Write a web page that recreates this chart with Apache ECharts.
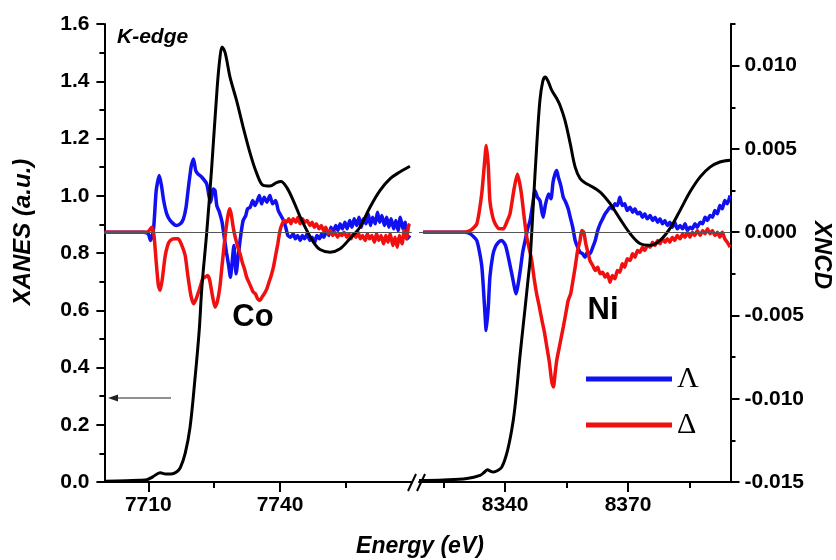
<!DOCTYPE html>
<html>
<head>
<meta charset="utf-8">
<script src="https://cdn.jsdelivr.net/npm/echarts@6/dist/echarts.min.js"></script>
<style>
  html, body { margin: 0; padding: 0; background: #fff; }
  #main { width: 836px; height: 560px; }
</style>
</head>
<body>
<div id="main"></div>
<script>
// Co K-edge XANES (left axis)
var coXanes = [[7700,0.003],[7705,0.004],[7708,0.006],[7709.7,0.008],[7711,0.018],[7712.7,0.032],[7714,0.028],[7715.2,0.028],[7716.5,0.036],[7717.3,0.05],[7718.4,0.10],[7719.5,0.19],[7720.6,0.355],[7721.6,0.53],[7722.2,0.68],[7723.3,0.87],[7724.4,1.09],[7725.7,1.38],[7726.3,1.48],[7726.8,1.52],[7727.5,1.50],[7728.6,1.415],[7730.1,1.333],[7731.6,1.24],[7733.2,1.148],[7734.7,1.078],[7736.2,1.036],[7737.7,1.034],[7739.2,1.046],[7740.2,1.05],[7741.5,1.03],[7743,0.984],[7744.6,0.926],[7746.1,0.879],[7747.6,0.838],[7749.1,0.812],[7751.4,0.803],[7753.7,0.815],[7755.9,0.85],[7758.2,0.89],[7760.5,0.96],[7762.8,1.019],[7765.1,1.06],[7767.3,1.083],[7769.6,1.103]];

// Co XNCD, Lambda (blue) and Delta (red), right axis
var coLambda = [[7700,0],[7709,0],[7710,-0.0001],[7710.5,-0.0005],[7711.2,0.0002],[7711.8,0.0025],[7712.5,0.0034],[7713,0.0028],[7713.5,0.0019],[7714.2,0.0011],[7715,0.0007],[7716.4,0.0004],[7717.3,0.0005],[7718,0.0008],[7718.6,0.0015],[7719.1,0.0026],[7719.8,0.0040],[7720.3,0.0044],[7720.8,0.0037],[7721.3,0.0035],[7722.2,0.0033],[7723.3,0.0029],[7723.8,0.0022],[7724.2,0.0018],[7724.8,0.0026],[7725.2,0.0025],[7725.6,0.0016],[7726.2,0.0012],[7726.8,0.0006],[7727.3,-0.0003],[7727.8,-0.0012],[7728.3,-0.0020],[7728.7,-0.0027],[7729.1,-0.0018],[7729.5,-0.0008],[7730,-0.0025],[7730.5,-0.0014],[7731,-0.0003],[7731.6,0.0007],[7732.2,0.0010],[7732.6,0.0014],[7733.2,0.0015],[7733.8,0.0019],[7734.3,0.0016],[7734.7,0.0018],[7735.3,0.0022],[7735.8,0.0017],[7736.4,0.0021],[7737,0.0018],[7737.7,0.0022],[7738.3,0.0017],[7739,0.0019],[7739.6,0.0013],[7740.2,0.0010],[7740.8,0.0007],[7741.3,0.0003],[7741.8,-0.0002],[7742.4,-0.0003],[7743,-0.0001],[7743.5,-0.0004],[7744,-0.0002],[7744.6,-0.0005],[7745.1,-0.0002],[7745.6,-0.0004],[7746.2,-0.0001],[7746.8,-0.0005],[7747.3,-0.0003],[7747.9,-0.0006],[7748.4,-0.0002],[7749,-0.0004],[7749.5,-0.0001],[7750,-0.0003],[7750.6,0.0001],[7751.1,-0.0002],[7751.6,0.0003],[7752.1,0.0000],[7752.7,0.0004],[7753.2,0.0001],[7753.7,0.0005],[7754.2,0.0002],[7754.8,0.0006],[7755.3,0.0002],[7755.9,0.0007],[7756.4,0.0003],[7756.9,0.0008],[7757.5,0.0004],[7758,0.0009],[7758.5,0.0003],[7759,0.0008],[7759.6,0.0005],[7760.1,0.0011],[7760.6,0.0004],[7761.1,0.0009],[7761.7,0.0005],[7762.2,0.0012],[7762.7,0.0006],[7763.2,0.0010],[7763.8,0.0004],[7764.3,0.0009],[7764.8,0.0003],[7765.3,0.0008],[7765.9,0.0002],[7766.4,0.0007],[7766.9,0.0001],[7767.4,0.0009],[7768,0.0002],[7768.5,0.0006],[7769,-0.0004],[7769.6,-0.0002]];
var coDelta = [[7700,0],[7709.5,0],[7710.2,0.0001],[7710.8,0.0003],[7711.3,-0.0002],[7711.8,-0.0018],[7712.3,-0.0032],[7712.7,-0.0035],[7713.2,-0.0028],[7713.8,-0.0015],[7714.4,-0.0008],[7715,-0.0005],[7716,-0.0004],[7716.8,-0.0004],[7717.5,-0.0007],[7718.4,-0.0014],[7719,-0.0026],[7719.7,-0.0038],[7720.3,-0.0043],[7720.9,-0.0040],[7721.8,-0.0033],[7722.4,-0.0028],[7722.9,-0.0027],[7723.5,-0.0026],[7724,-0.0029],[7724.6,-0.0038],[7725.2,-0.0045],[7725.7,-0.0042],[7726.3,-0.0033],[7726.8,-0.0020],[7727.4,-0.0005],[7727.9,0.0006],[7728.3,0.0012],[7728.6,0.0014],[7729,0.0009],[7729.4,0.0002],[7729.9,-0.0004],[7730.4,-0.0009],[7730.9,-0.0013],[7731.4,-0.0018],[7731.9,-0.0022],[7732.4,-0.0027],[7732.9,-0.0030],[7733.4,-0.0033],[7733.9,-0.0036],[7734.4,-0.0037],[7734.9,-0.0040],[7735.4,-0.0041],[7735.9,-0.0039],[7736.4,-0.0037],[7737,-0.0034],[7737.5,-0.0030],[7738,-0.0026],[7738.5,-0.0021],[7739,-0.0014],[7739.5,-0.0007],[7740,0.0001],[7740.5,0.0005],[7741,0.0007],[7741.5,0.0006],[7742,0.0008],[7742.5,0.0005],[7743,0.0008],[7743.6,0.0006],[7744.1,0.0009],[7744.6,0.0005],[7745.1,0.0008],[7745.7,0.0006],[7746.2,0.0007],[7746.8,0.0004],[7747.3,0.0006],[7747.8,0.0003],[7748.3,0.0005],[7748.9,0.0002],[7749.4,0.0004],[7749.9,0.0001],[7750.4,0.0003],[7751,-0.0001],[7751.5,0.0001],[7752,-0.0002],[7752.5,0.0000],[7753.1,-0.0003],[7753.6,-0.0001],[7754.1,-0.0002],[7754.6,0.0000],[7755.2,-0.0003],[7755.7,-0.0001],[7756.2,-0.0004],[7756.7,-0.0001],[7757.3,-0.0003],[7757.8,0.0000],[7758.3,-0.0004],[7758.8,-0.0002],[7759.4,-0.0005],[7759.9,-0.0001],[7760.4,-0.0004],[7760.9,-0.0002],[7761.5,-0.0006],[7762,-0.0001],[7762.5,-0.0005],[7763,-0.0002],[7763.6,-0.0007],[7764.1,-0.0002],[7764.6,-0.0006],[7765.1,-0.0001],[7765.7,-0.0008],[7766.2,-0.0003],[7766.7,-0.0009],[7767.2,-0.0002],[7767.8,-0.0007],[7768.3,0.0001],[7768.8,-0.0004],[7769.3,0.0004],[7769.6,0.0005]];

// Ni K-edge XANES (left axis)
var niXanes = [[8319,0.005],[8325,0.007],[8330.7,0.012],[8333.9,0.023],[8335,0.035],[8335.7,0.043],[8336.4,0.038],[8337.1,0.035],[8338.2,0.040],[8339.2,0.052],[8340.4,0.099],[8341.6,0.18],[8342.4,0.26],[8343.7,0.449],[8344.9,0.61],[8345.7,0.72],[8346.1,0.775],[8346.9,0.973],[8347.7,1.17],[8348.5,1.333],[8349.2,1.40],[8349.8,1.415],[8350.5,1.40],[8351.4,1.368],[8352.6,1.34],[8353.4,1.316],[8354.6,1.264],[8355.9,1.182],[8357.1,1.1],[8358.3,1.06],[8359.5,1.045],[8360.7,1.036],[8363.2,1.013],[8365.6,0.973],[8368,0.92],[8370.5,0.868],[8372.9,0.833],[8375.4,0.827],[8377.8,0.844],[8380.2,0.885],[8382.7,0.949],[8385.1,1.013],[8387.6,1.066],[8390,1.1],[8392.4,1.118],[8394.9,1.124]];

// Ni XNCD
var niLambda = [[8320,0],[8330,0],[8331.5,-0.0001],[8333.1,-0.0005],[8334.3,-0.0020],[8335,-0.0045],[8335.4,-0.0059],[8335.9,-0.0045],[8336.3,-0.0027],[8337,-0.0014],[8337.6,-0.0009],[8338.4,-0.0006],[8339.2,-0.0005],[8340.1,-0.0008],[8340.8,-0.0015],[8341.8,-0.0027],[8342.7,-0.0037],[8343.2,-0.0031],[8343.7,-0.0023],[8344.3,-0.0012],[8344.9,-0.0005],[8345.5,0.0002],[8346.1,0.0007],[8346.7,0.0016],[8347.3,0.0025],[8347.9,0.0021],[8348.5,0.0019],[8349,0.0012],[8349.3,0.0009],[8349.8,0.0016],[8350.6,0.0023],[8351.2,0.0020],[8351.7,0.0030],[8352.2,0.0035],[8352.6,0.0037],[8353,0.0033],[8353.6,0.0028],[8354.2,0.0021],[8354.8,0.0018],[8355.4,0.0014],[8355.9,0.0009],[8356.5,0.0003],[8357.1,-0.0005],[8357.7,-0.0009],[8358.3,-0.0012],[8358.9,-0.0013],[8359.5,-0.0015],[8360.1,-0.0012],[8360.7,-0.0013],[8361.4,-0.0009],[8362,-0.0005],[8362.6,0.0001],[8363.2,0.0005],[8363.8,0.0008],[8364.4,0.0011],[8365,0.0013],[8365.6,0.0015],[8366.2,0.0014],[8366.8,0.0017],[8367.4,0.0016],[8368,0.0021],[8368.6,0.0016],[8369.2,0.0017],[8369.8,0.0013],[8370.5,0.0015],[8371.1,0.0012],[8371.7,0.0014],[8372.3,0.0011],[8372.9,0.0012],[8373.5,0.0009],[8374.1,0.0011],[8374.7,0.0008],[8375.4,0.0010],[8376,0.0007],[8376.6,0.0009],[8377.2,0.0006],[8377.8,0.0008],[8378.4,0.0005],[8379,0.0007],[8379.6,0.0004],[8380.2,0.0006],[8380.8,0.0003],[8381.4,0.0006],[8382,0.0002],[8382.7,0.0004],[8383.3,0.0002],[8383.9,0.0005],[8384.5,0.0001],[8385.1,0.0003],[8385.7,0.0002],[8386.3,0.0005],[8386.9,0.0003],[8387.6,0.0006],[8388.2,0.0005],[8388.8,0.0009],[8389.4,0.0007],[8390,0.0010],[8390.6,0.0009],[8391.2,0.0013],[8391.8,0.0011],[8392.4,0.0016],[8393,0.0014],[8393.6,0.0019],[8394.2,0.0017],[8394.9,0.0022]];
var niDelta = [[8320,0],[8330,0],[8331.5,0.0001],[8333.1,0.0005],[8334.3,0.0023],[8335,0.0042],[8335.4,0.0052],[8335.9,0.0040],[8336.3,0.0019],[8337,0.0009],[8337.6,0.0005],[8338.6,0.0002],[8339.6,0.0002],[8340.4,0.0006],[8341.2,0.0011],[8342.2,0.0026],[8343,0.0035],[8343.6,0.0029],[8344.1,0.0021],[8344.7,0.0008],[8345.3,-0.0003],[8345.9,-0.0010],[8346.5,-0.0017],[8347.1,-0.0028],[8347.7,-0.0037],[8348.3,-0.0044],[8349,-0.0053],[8349.6,-0.0060],[8350.2,-0.0069],[8350.8,-0.0078],[8351.4,-0.0090],[8351.8,-0.0093],[8352.2,-0.0085],[8352.6,-0.0077],[8353.4,-0.0067],[8354.2,-0.0057],[8354.8,-0.0049],[8355.4,-0.0041],[8356,-0.0037],[8356.5,-0.0030],[8357.1,-0.0021],[8357.7,-0.0011],[8358.3,-0.0005],[8358.7,0.0001],[8359.2,0.0000],[8359.7,-0.0007],[8360.3,-0.0013],[8360.7,-0.0017],[8361.4,-0.0020],[8362,-0.0023],[8362.6,-0.0021],[8363.2,-0.0025],[8363.8,-0.0024],[8364.4,-0.0027],[8365,-0.0025],[8365.6,-0.0030],[8366.2,-0.0026],[8366.8,-0.0028],[8367.4,-0.0023],[8368,-0.0024],[8368.6,-0.0019],[8369.2,-0.0021],[8369.8,-0.0016],[8370.5,-0.0017],[8371.1,-0.0013],[8371.7,-0.0015],[8372.3,-0.0011],[8372.9,-0.0012],[8373.5,-0.0009],[8374.1,-0.0011],[8374.7,-0.0008],[8375.4,-0.0009],[8376,-0.0006],[8376.6,-0.0008],[8377.2,-0.0005],[8377.8,-0.0007],[8378.4,-0.0004],[8379,-0.0006],[8379.6,-0.0004],[8380.2,-0.0006],[8380.8,-0.0003],[8381.4,-0.0005],[8382,-0.0002],[8382.7,-0.0004],[8383.3,-0.0001],[8383.9,-0.0003],[8384.5,0.0000],[8385.1,-0.0003],[8385.7,0.0000],[8386.3,-0.0002],[8386.9,0.0001],[8387.6,-0.0002],[8388.2,0.0001],[8388.8,-0.0001],[8389.4,0.0002],[8390,-0.0001],[8390.6,0.0001],[8391.2,-0.0002],[8391.8,0.0000],[8392.4,-0.0003],[8393,0.0000],[8393.6,-0.0004],[8394.2,-0.0006],[8394.9,-0.0009]];

// axis ticks
var coMajor = [7710, 7740], coMinor = [7725, 7755];
var niMajor = [8340, 8370], niMinor = [8325, 8355, 8385];
var xncdMajor = [-0.015, -0.01, -0.005, 0, 0.005, 0.01];
var xncdMinor = [-0.0125, -0.0075, -0.0025, 0.0025, 0.0075, 0.0125];

var FONT = 'Liberation Sans, Arial, sans-serif';
var BLUE = '#1010f0', RED = '#f01010';

function lbl(extra) {
  return Object.assign({ color: '#000', fontSize: 21, fontWeight: 'bold', fontFamily: FONT }, extra);
}
function blackLine() { return { color: '#000', width: 2 }; }
function clearLine() { return { show: true, onZero: false, lineStyle: { color: 'rgba(0,0,0,0)', width: 1 } }; }

// main x axis: short ticks everywhere, labels on majors
function xMain(grid, min, max, major, minor) {
  return {
    type: 'value', gridIndex: grid, min: min, max: max, position: 'bottom',
    axisLine: { show: true, onZero: false, lineStyle: blackLine() },
    axisTick: { customValues: major.concat(minor), length: 6, lineStyle: blackLine() },
    axisLabel: lbl({ customValues: major, margin: 13, formatter: function (v) { return String(v); } }),
    splitLine: { show: false }
  };
}
// overlay x axis: longer major ticks
function xLong(grid, min, max, major) {
  return {
    type: 'value', gridIndex: grid, min: min, max: max, position: 'bottom',
    axisLine: clearLine(),
    axisTick: { customValues: major, length: 10, lineStyle: blackLine() },
    axisLabel: { show: false },
    splitLine: { show: false }
  };
}

function zeroLine() {
  return {
    silent: true, symbol: ['none', 'none'], label: { show: false },
    lineStyle: { color: '#555', width: 1, type: 'solid' },
    emphasis: { disabled: true },
    data: [{ yAxis: 0 }]
  };
}

function curve(name, x, y, data, color, width, z, smooth) {
  return {
    name: name, type: 'line', xAxisIndex: x, yAxisIndex: y, data: data,
    showSymbol: false, smooth: smooth, z: z,
    lineStyle: { color: color, width: width },
    itemStyle: { color: color }
  };
}

var s0 = curve('Λ', 0, 1, coLambda, BLUE, 3.5, 2, 0.2); s0.markLine = zeroLine();
var s3 = curve('Λ', 1, 3, niLambda, BLUE, 3.5, 2, 0.2); s3.markLine = zeroLine();

var option = {
  animation: false,
  grid: [
    { left: 104.4, top: 24, width: 307.3, height: 458 },
    { left: 419, top: 24, width: 311.5, height: 458 }
  ],
  xAxis: [
    xMain(0, 7700, 7770, coMajor, coMinor),
    xMain(1, 8319, 8395, niMajor, niMinor),
    xLong(0, 7700, 7770, coMajor),
    xLong(1, 8319, 8395, niMajor)
  ],
  yAxis: [
    {
      type: 'value', gridIndex: 0, position: 'left', min: 0, max: 1.6, interval: 0.2,
      axisLine: { show: true, onZero: false, lineStyle: blackLine() },
      axisTick: { length: 8, lineStyle: blackLine() },
      minorTick: { show: true, splitNumber: 2, length: 5, lineStyle: blackLine() },
      axisLabel: lbl({ margin: 15, formatter: function (v) { return v.toFixed(1); } }),
      splitLine: { show: false }
    },
    { type: 'value', gridIndex: 0, position: 'right', min: -0.015, max: 0.0125, show: false, splitLine: { show: false } },
    { type: 'value', gridIndex: 1, position: 'left', min: 0, max: 1.6, show: false, splitLine: { show: false } },
    {
      type: 'value', gridIndex: 1, position: 'right', min: -0.015, max: 0.0125,
      axisLine: { show: true, onZero: false, lineStyle: blackLine() },
      axisTick: { customValues: xncdMajor.concat(xncdMinor), length: 5, lineStyle: blackLine() },
      axisLabel: lbl({ customValues: xncdMajor, margin: 14, formatter: function (v) { return v.toFixed(3); } }),
      splitLine: { show: false }
    },
    {
      type: 'value', gridIndex: 1, position: 'right', min: -0.015, max: 0.0125,
      axisLine: clearLine(),
      axisTick: { customValues: xncdMajor, length: 9, lineStyle: blackLine() },
      axisLabel: { show: false },
      splitLine: { show: false }
    }
  ],
  legend: {
    data: ['Λ', 'Δ'], orient: 'vertical', left: 581, top: 359,
    icon: 'rect', itemWidth: 86, itemHeight: 5, itemGap: 16,
    textStyle: { fontFamily: 'Liberation Serif, Times New Roman, serif', fontSize: 30, color: '#000' }
  },
  series: [
    s0,
    curve('Δ', 0, 1, coDelta, RED, 3.5, 3, 0.2),
    curve('XANES', 0, 0, coXanes, '#000', 3, 4, 0.35),
    s3,
    curve('Δ', 1, 3, niDelta, RED, 3.5, 3, 0.2),
    curve('XANES', 1, 2, niXanes, '#000', 3, 4, 0.35)
  ],
  graphic: [
    { type: 'text', x: 117, y: 37, style: { text: 'K-edge', font: 'italic bold 21px ' + FONT, fill: '#000', verticalAlign: 'middle' } },
    { type: 'text', x: 253, y: 317, style: { text: 'Co', font: 'bold 31px ' + FONT, fill: '#000', align: 'center', verticalAlign: 'middle' } },
    { type: 'text', x: 603, y: 310, style: { text: 'Ni', font: 'bold 31px ' + FONT, fill: '#000', align: 'center', verticalAlign: 'middle' } },
    { type: 'text', x: 23, y: 232, rotation: Math.PI / 2, style: { text: 'XANES (a.u.)', font: 'italic bold 24px ' + FONT, fill: '#000', align: 'center', verticalAlign: 'middle' } },
    { type: 'text', x: 822, y: 255, rotation: -Math.PI / 2, style: { text: 'XNCD', font: 'italic bold 24px ' + FONT, fill: '#000', align: 'center', verticalAlign: 'middle' } },
    { type: 'text', x: 420, y: 547, style: { text: 'Energy (eV)', font: 'italic bold 23px ' + FONT, fill: '#000', align: 'center', verticalAlign: 'middle' } },
    // arrow pointing to the XANES axis
    { type: 'line', shape: { x1: 171, y1: 398, x2: 114, y2: 398 }, style: { stroke: '#222', lineWidth: 1.2 } },
    { type: 'polygon', shape: { points: [[108, 398], [118, 394.5], [118, 401.5]] }, style: { fill: '#222' } },
    // axis break marks
    { type: 'line', shape: { x1: 408, y1: 491, x2: 416, y2: 474 }, style: { stroke: '#000', lineWidth: 2 } },
    { type: 'line', shape: { x1: 417, y1: 491, x2: 425, y2: 474 }, style: { stroke: '#000', lineWidth: 2 } }
  ]
};

var chart = echarts.init(document.getElementById('main'));
chart.setOption(option);
</script>
</body>
</html>
